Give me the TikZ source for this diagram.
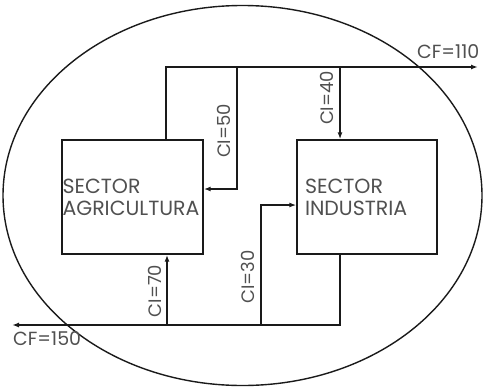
\documentclass[tikz,border=0pt]{standalone}
\usepackage{fontspec}
\setmainfont{Poppins}
\usetikzlibrary{arrows.meta, positioning, calc}
\definecolor{linecolor}{HTML}{1A1A1A}
\definecolor{txtcolor}{HTML}{505050}

\begin{document}
\begin{tikzpicture}[
    x=1pt, y=-1pt,
    sector/.style={draw=linecolor, line width=1.4pt, minimum height=114pt,
                   align=left, font=\fontsize{20.5}{22}\selectfont, text=txtcolor},
    flow/.style={draw=linecolor, line width=1.4pt, -{Latex[length=7pt, width=5pt]}},
    ci/.style={font=\fontsize{18}{18}\selectfont, text=txtcolor, rotate=90, inner sep=0pt},
    cf/.style={font=\fontsize{19}{19}\selectfont, text=txtcolor, inner sep=0pt}
]
    \useasboundingbox (0,0) rectangle (484,388);
    % --- economy ---
    \draw[linecolor, line width=1.4pt] (242.5,195.5) ellipse [x radius=239.5pt, y radius=190pt];

    % --- sectors ---
    \node[sector, text width=140pt, inner xsep=0.5pt] (agri) at (132.5,197) {SECTOR\\AGRICULTURA};
    \node[sector, text width=124pt, inner xsep=8pt] (ind) at (367,197) {SECTOR\\INDUSTRIA};

    % --- top flows ---
    \coordinate (agriup) at (agri.north -| 166,0);
    \coordinate (topl) at (166,67);
    \coordinate (cfout) at (478,67);
    \coordinate (ci50t) at (237,67);
    \coordinate (ci50b) at (237,189);
    \coordinate (ci40t) at (340,67);
    \draw[flow] (agriup) -- (topl) -- (cfout);
    \draw[flow] (ci50t) -- (ci50b) -- (ci50b -| agri.east);
    \draw[flow] (ci40t) -- (ci40t |- ind.north);
    \node[ci] at (224,131) {CI=50};
    \node[ci] at (327,98) {CI=40};
    \node[cf, anchor=south west] at (417,59) {CF=110};

    % --- bottom flows ---
    \coordinate (inddown) at (ind.south -| 340,0);
    \coordinate (botr) at (340,325);
    \coordinate (cfin) at (12,325);
    \coordinate (ci70b) at (167,325);
    \coordinate (ci30b) at (261,325);
    \coordinate (ci30t) at (261,205);
    \draw[flow] (inddown) -- (botr) -- (cfin);
    \draw[flow] (ci70b) -- (ci70b |- agri.south);
    \draw[flow] (ci30b) -- (ci30t) -- (ci30t -| ind.west);
    \node[ci] at (155,291) {CI=70};
    \node[ci] at (248,277) {CI=30};
    \node[cf, anchor=north west] at (13,331) {CF=150};
\end{tikzpicture}
\end{document}
